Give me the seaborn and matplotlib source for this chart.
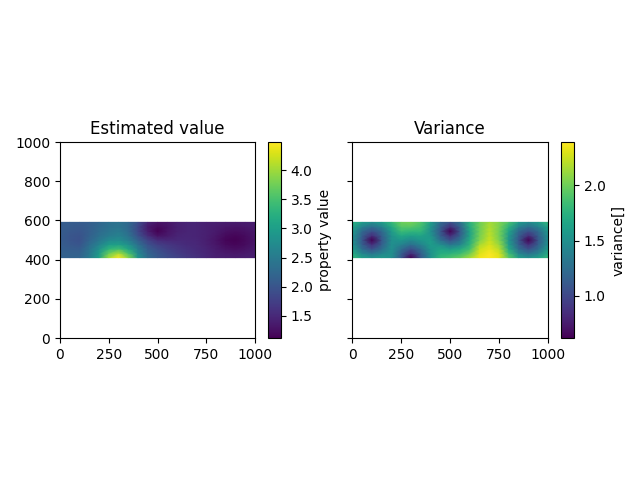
import pandas as pd
import seaborn as sns
import matplotlib.pyplot as plt
from matplotlib.transforms import Affine2D

# grid the values were read on
x_values = [0, 50, 100, 150, 200, 250, 300, 350, 400, 450, 500, 550, 600, 650, 700, 750, 800, 850, 900, 950, 1000]
y_values = [410, 432.5, 455, 477.5, 500, 522.5, 545, 567.5, 590]

estimate_410 = [2.15, 2.18, 2.2, 2.5, 3.0, 4.0, 4.48, 3.9, 2.85, 2.3, 2.05, 1.9, 1.8, 1.68, 1.6, 1.5, 1.42, 1.4, 1.38, 1.4, 1.42]
estimate_432 = [2.15, 2.15, 2.15, 2.45, 2.95, 3.7, 4.05, 3.5, 2.7, 2.2, 2.0, 1.85, 1.72, 1.62, 1.55, 1.48, 1.4, 1.35, 1.32, 1.35, 1.4]
estimate_455 = [2.12, 2.1, 2.08, 2.4, 2.8, 3.3, 3.45, 3.1, 2.55, 2.1, 1.9, 1.75, 1.65, 1.58, 1.52, 1.45, 1.36, 1.28, 1.25, 1.28, 1.35]
estimate_477 = [2.1, 2.05, 2.0, 2.3, 2.6, 2.95, 3.0, 2.8, 2.35, 1.95, 1.75, 1.65, 1.58, 1.52, 1.5, 1.42, 1.32, 1.2, 1.16, 1.22, 1.32]
estimate_500 = [2.08, 2.02, 1.95, 2.2, 2.45, 2.7, 2.75, 2.55, 2.15, 1.8, 1.55, 1.5, 1.5, 1.5, 1.48, 1.4, 1.3, 1.17, 1.12, 1.2, 1.3]
estimate_522 = [2.08, 2.02, 1.98, 2.15, 2.35, 2.5, 2.6, 2.4, 1.95, 1.55, 1.28, 1.35, 1.45, 1.48, 1.46, 1.42, 1.32, 1.2, 1.16, 1.22, 1.32]
estimate_545 = [2.08, 2.05, 2.02, 2.12, 2.28, 2.42, 2.5, 2.3, 1.85, 1.4, 1.13, 1.3, 1.42, 1.46, 1.45, 1.42, 1.35, 1.27, 1.23, 1.27, 1.34]
estimate_567 = [2.1, 2.08, 2.05, 2.12, 2.25, 2.38, 2.42, 2.25, 1.85, 1.35, 1.2, 1.28, 1.42, 1.45, 1.45, 1.42, 1.38, 1.33, 1.3, 1.33, 1.38]
estimate_590 = [2.1, 2.1, 2.08, 2.12, 2.22, 2.35, 2.4, 2.25, 1.9, 1.45, 1.3, 1.32, 1.42, 1.45, 1.45, 1.42, 1.4, 1.38, 1.36, 1.38, 1.4]

variance_410 = [1.8, 1.62, 1.52, 1.58, 1.5, 1.1, 0.62, 1.1, 1.5, 1.8, 1.88, 1.98, 2.15, 2.35, 2.39, 2.32, 1.95, 1.62, 1.5, 1.62, 1.8]
variance_432 = [1.7, 1.42, 1.3, 1.42, 1.52, 1.15, 0.85, 1.15, 1.52, 1.72, 1.75, 1.82, 2.0, 2.3, 2.38, 2.28, 1.82, 1.42, 1.28, 1.42, 1.7]
variance_455 = [1.6, 1.25, 1.05, 1.25, 1.5, 1.25, 1.05, 1.25, 1.55, 1.65, 1.58, 1.68, 1.85, 2.25, 2.33, 2.2, 1.68, 1.25, 1.05, 1.25, 1.6]
variance_477 = [1.52, 1.15, 0.85, 1.15, 1.5, 1.42, 1.28, 1.42, 1.6, 1.48, 1.3, 1.42, 1.75, 2.15, 2.28, 2.12, 1.6, 1.15, 0.85, 1.15, 1.52]
variance_500 = [1.5, 1.1, 0.62, 1.1, 1.5, 1.55, 1.45, 1.55, 1.6, 1.28, 1.05, 1.28, 1.7, 2.05, 2.25, 2.05, 1.55, 1.1, 0.62, 1.1, 1.5]
variance_522 = [1.52, 1.15, 0.85, 1.15, 1.52, 1.68, 1.62, 1.65, 1.55, 1.15, 0.85, 1.15, 1.65, 2.02, 2.22, 2.02, 1.58, 1.15, 0.85, 1.15, 1.52]
variance_545 = [1.58, 1.22, 1.05, 1.22, 1.58, 1.82, 1.78, 1.78, 1.5, 1.1, 0.62, 1.1, 1.65, 2.0, 2.2, 2.02, 1.65, 1.22, 1.05, 1.22, 1.58]
variance_567 = [1.65, 1.4, 1.25, 1.4, 1.68, 1.92, 1.92, 1.85, 1.55, 1.15, 0.85, 1.15, 1.7, 2.0, 2.18, 2.04, 1.75, 1.4, 1.25, 1.4, 1.65]
variance_590 = [1.75, 1.6, 1.5, 1.6, 1.8, 2.0, 2.02, 1.9, 1.6, 1.22, 1.05, 1.28, 1.75, 2.0, 2.15, 2.05, 1.88, 1.58, 1.45, 1.58, 1.8]

estimate = pd.DataFrame(
    [estimate_410, estimate_432, estimate_455, estimate_477, estimate_500,
     estimate_522, estimate_545, estimate_567, estimate_590],
    index=y_values, columns=x_values,
)
variance = pd.DataFrame(
    [variance_410, variance_432, variance_455, variance_477, variance_500,
     variance_522, variance_545, variance_567, variance_590],
    index=y_values, columns=x_values,
)


def place(left, right, top=142, bottom=338):
    return [left / 640, 1 - bottom / 480, (right - left) / 640, (bottom - top) / 480]


def draw_panel(ax, cax, df, vmin, vmax, title, label, ticks):
    # one heatmap cell index is one grid step, shift it onto the data scale
    to_data = Affine2D().scale(50, 22.5).translate(0, 410) + ax.transData
    sns.heatmap(df, ax=ax, cbar_ax=cax, cmap="viridis", vmin=vmin, vmax=vmax,
                shading="gouraud", transform=to_data,
                xticklabels=False, yticklabels=False,
                cbar_kws={"label": label, "ticks": ticks})
    for spine in ax.spines.values():
        spine.set_visible(True)
    ax.set_xlim(0, 1000)
    ax.set_ylim(0, 1000)
    ax.set_xticks([0, 250, 500, 750, 1000])
    ax.set_xticklabels(["0", "250", "500", "750", "1000"], rotation=0)
    ax.set_title(title)
    outline = ax.collections[0].colorbar.outline
    outline.set_visible(True)
    outline.set_linewidth(0.8)


fig, axes = plt.subplots(1, 2, sharey=True, figsize=(6.4, 4.8), dpi=100)
axes[0].set_position(place(60, 255))
axes[1].set_position(place(352.4, 548))
cax_left = fig.add_axes(place(268, 281))
cax_right = fig.add_axes(place(561, 574))

draw_panel(axes[0], cax_left, estimate, 1.12, 4.48, "Estimated value", "property value",
           [1.5, 2.0, 2.5, 3.0, 3.5, 4.0])
draw_panel(axes[1], cax_right, variance, 0.62, 2.39, "Variance", "variance[]",
           [1.0, 1.5, 2.0])

axes[0].set_yticks([0, 200, 400, 600, 800, 1000])
axes[0].set_yticklabels(["0", "200", "400", "600", "800", "1000"], rotation=0)
axes[1].tick_params(labelleft=False)

fig.savefig("out.png", dpi=100)
